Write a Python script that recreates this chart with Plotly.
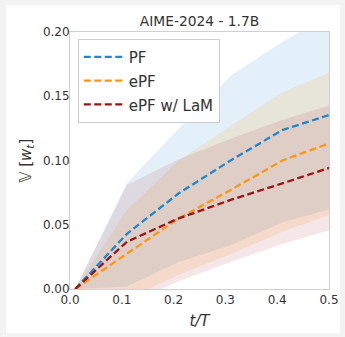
import plotly.graph_objects as go

# ---- data ----
t = [0.01, 0.11, 0.21, 0.31, 0.41, 0.51]

pf_mean = [0.0, 0.043, 0.0745, 0.100, 0.1237, 0.1367]
pf_low = [0.0, 0.002, 0.021, 0.034, 0.052, 0.063]
pf_high = [0.0, 0.0825, 0.125, 0.166, 0.1925, 0.215]

epf_mean = [0.0, 0.0278, 0.055, 0.077, 0.100, 0.1147]
epf_low = [0.0, -0.008, 0.011, 0.027, 0.0446, 0.059]
epf_high = [0.0, 0.0615, 0.100, 0.127, 0.153, 0.170]

lam_mean = [0.0, 0.0368, 0.055, 0.0693, 0.0822, 0.0955]
lam_low = [0.0, -0.012, 0.006, 0.021, 0.035, 0.047]
lam_high = [0.0, 0.081, 0.101, 0.117, 0.1315, 0.144]

names = ["PF", "ePF", "ePF w/ LaM"]
line_colors = ["#1f86d0", "#ff9510", "#9b1414"]
fill_colors = ["rgba(31,134,208,0.12)", "rgba(255,149,16,0.13)", "rgba(155,20,20,0.10)"]

x_ticks = [0.0, 0.1, 0.2, 0.3, 0.4, 0.5]
y_ticks = [0.0, 0.05, 0.10, 0.15, 0.20]

series = [
    (pf_mean, pf_low, pf_high),
    (epf_mean, epf_low, epf_high),
    (lam_mean, lam_low, lam_high),
]

fig = go.Figure()

for (m, lo, hi), fc in zip(series, fill_colors):
    fig.add_trace(go.Scatter(
        x=t + t[::-1], y=hi + lo[::-1],
        fill="toself", fillcolor=fc, line=dict(width=0),
        mode="lines", showlegend=False, hoverinfo="skip"))

for (m, lo, hi), name, lc in zip(series, names, line_colors):
    fig.add_trace(go.Scatter(
        x=t, y=m, mode="lines",
        name=f"<span style='font-size:15px'>{name}</span>",
        line=dict(color=lc, width=2.3, dash="7px,3.5px")))

fig.update_layout(
    width=345, height=337,
    margin=dict(l=70, r=16, t=32, b=48, autoexpand=False),
    paper_bgcolor="#f3f3f3",
    plot_bgcolor="white",
    font=dict(family="DejaVu Sans", color="#333333", size=12),
    title=dict(text="AIME-2024 - 1.7B", x=0.5, xref="paper", xanchor="center",
               y=1 - 21 / 337, yanchor="middle", yref="container",
               font=dict(size=13.8, color="#333333")),
    showlegend=True,
    legend=dict(x=0.03, y=0.973, xanchor="left", yanchor="top",
                bgcolor="rgba(255,255,255,0.85)", bordercolor="#cccccc", borderwidth=1,
                font=dict(size=16, color="#333333"), tracegroupgap=0, itemwidth=40),
    shapes=[dict(type="rect", xref="paper", yref="paper",
                 x0=(6 - 70) / 259, x1=(340 - 70) / 259,
                 y0=(289 - 333) / 257, y1=(289 - 5) / 257,
                 fillcolor="white", line=dict(width=0), layer="below")],
)

fig.update_xaxes(
    range=[0, 0.5], tickvals=x_ticks, ticktext=[f"{v:.1f}" for v in x_ticks],
    showgrid=False, zeroline=False, showline=True, mirror=True, automargin=False,
    linecolor="#d0d0d0", linewidth=1, ticks="", ticklen=0,
    tickfont=dict(size=12, color="#333333"),
    title=dict(text="<i>t/T</i>", font=dict(size=15, color="#333333"), standoff=9))

fig.update_yaxes(
    range=[0, 0.2], tickvals=y_ticks, ticktext=[f"{v:.2f}" for v in y_ticks],
    showgrid=False, zeroline=False, showline=True, mirror=True, automargin=False,
    linecolor="#d0d0d0", linewidth=1, ticks="", ticklen=0, ticklabelstandoff=-3,
    tickfont=dict(size=12, color="#333333"),
    title=dict(text="𝕍 [<i>w</i><sub><i>t</i></sub>]", font=dict(size=15, color="#333333"), standoff=7))

fig.write_html("out.html", config={"displayModeBar": False},
               post_script="document.body.style.margin='0';document.body.style.padding='0';")
